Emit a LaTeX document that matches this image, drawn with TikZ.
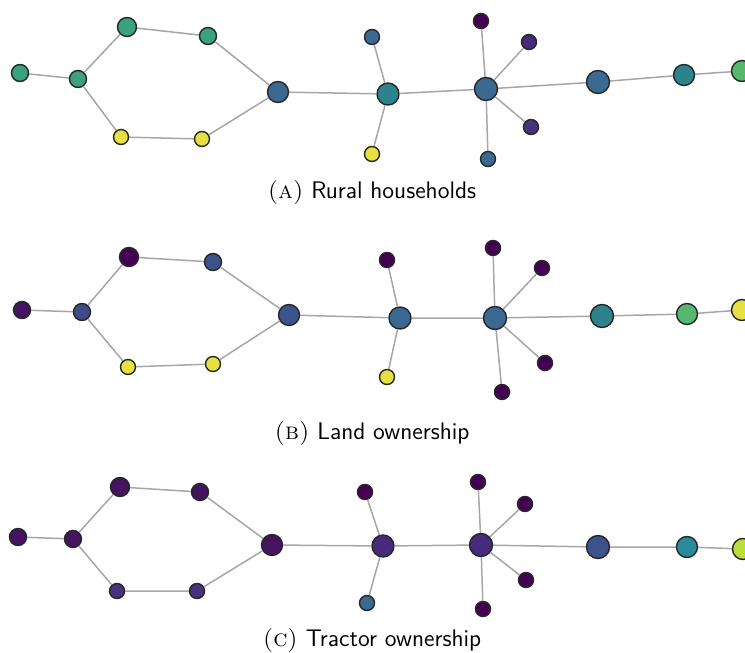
\documentclass[tikz,border=0pt]{standalone}
\definecolor{vpurple}{HTML}{440154}
\definecolor{vplum}{HTML}{45135F}
\definecolor{vviolet}{HTML}{472A7A}
\definecolor{vindigo}{HTML}{46337E}
\definecolor{vnavy}{HTML}{3E4A89}
\definecolor{vblue}{HTML}{3B528B}
\definecolor{vsteel}{HTML}{3A6A92}
\definecolor{vteal}{HTML}{2C838E}
\definecolor{vcyan}{HTML}{2B8A9A}
\definecolor{vgreen}{HTML}{3AA27F}
\definecolor{vlgreen}{HTML}{55B86C}
\definecolor{vlime}{HTML}{BADE3A}
\definecolor{vyellow}{HTML}{E6E040}
\begin{document}
\begin{tikzpicture}[x=0.5pt,y=-0.5pt,
	v/.style={circle,draw=black!85,line width=0.7pt,inner sep=0pt,minimum size=#1},
	link/.style={draw=gray!70,line width=0.75pt},
	capt/.style={font=\fontsize{12}{14}\selectfont}]
	\useasboundingbox(0,0)rectangle(745,653);
	% (a) rural households
	\node[v=8.5pt,fill=vgreen](a1)at(20,73){};
	\node[v=8.5pt,fill=vgreen](a2)at(78,79){};
	\node[v=9.5pt,fill=vgreen](a3)at(127,27){};
	\node[v=8.5pt,fill=vgreen](a4)at(208,36){};
	\node[v=10.5pt,fill=vsteel](a5)at(278,92){};
	\node[v=7.5pt,fill=vyellow](a6)at(121,137){};
	\node[v=7.5pt,fill=vyellow](a7)at(202,139){};
	\node[v=11pt,fill=vteal](a8)at(388,94){};
	\node[v=7.5pt,fill=vsteel](a9)at(372,37){};
	\node[v=7.5pt,fill=vyellow](a10)at(372,154){};
	\node[v=11.5pt,fill=vsteel](a11)at(486,89){};
	\node[v=7.5pt,fill=vpurple](a12)at(481,21){};
	\node[v=7.5pt,fill=vviolet](a13)at(529,42){};
	\node[v=7.5pt,fill=vindigo](a14)at(531,127){};
	\node[v=7.5pt,fill=vsteel](a15)at(488,159){};
	\node[v=11.5pt,fill=vsteel](a16)at(598,82){};
	\node[v=10.5pt,fill=vteal](a17)at(684,75){};
	\node[v=10.5pt,fill=vlgreen](a18)at(742,71){};
	\draw[link](a1)--(a2)--(a3)--(a4)--(a5)--(a7)--(a6)--(a2);
	\draw[link](a5)--(a8)--(a11)--(a16)--(a17)--(a18);
	\draw[link](a9)--(a8)--(a10);
	\draw[link](a12)--(a11)--(a13);
	\draw[link](a14)--(a11)--(a15);
	\node[capt](capa)at(372,192){\textsc{(a)}\ \textsf{Rural households}};
	% (b) land ownership
	\node[v=8.5pt,fill=vplum](b1)at(22,310){};
	\node[v=8.5pt,fill=vnavy](b2)at(82,312){};
	\node[v=9.5pt,fill=vpurple](b3)at(129,257){};
	\node[v=8.5pt,fill=vblue](b4)at(213,262){};
	\node[v=10.5pt,fill=vblue](b5)at(289,315){};
	\node[v=7.5pt,fill=vyellow](b6)at(128,367){};
	\node[v=7.5pt,fill=vyellow](b7)at(213,364){};
	\node[v=11pt,fill=vsteel](b8)at(400,318){};
	\node[v=7.5pt,fill=vpurple](b9)at(387,260){};
	\node[v=7.5pt,fill=vyellow](b10)at(387,377){};
	\node[v=11.5pt,fill=vsteel](b11)at(495,318){};
	\node[v=7.5pt,fill=vpurple](b12)at(493,248){};
	\node[v=7.5pt,fill=vpurple](b13)at(542,268){};
	\node[v=7.5pt,fill=vpurple](b14)at(545,363){};
	\node[v=7.5pt,fill=vpurple](b15)at(502,392){};
	\node[v=11.5pt,fill=vteal](b16)at(602,316){};
	\node[v=10.5pt,fill=vlgreen](b17)at(687,314){};
	\node[v=10.5pt,fill=vyellow](b18)at(742,310){};
	\draw[link](b1)--(b2)--(b3)--(b4)--(b5)--(b7)--(b6)--(b2);
	\draw[link](b5)--(b8)--(b11)--(b16)--(b17)--(b18);
	\draw[link](b9)--(b8)--(b10);
	\draw[link](b12)--(b11)--(b13);
	\draw[link](b14)--(b11)--(b15);
	\node[capt](capb)at(372,433){\textsc{(b)}\ \textsf{Land ownership}};
	% (c) tractor ownership
	\node[v=8.5pt,fill=vplum](c1)at(18,537){};
	\node[v=8.5pt,fill=vplum](c2)at(73,539){};
	\node[v=9.5pt,fill=vplum](c3)at(120,487){};
	\node[v=8.5pt,fill=vplum](c4)at(200,492){};
	\node[v=10.5pt,fill=vplum](c5)at(272,545){};
	\node[v=7.5pt,fill=vindigo](c6)at(117,591){};
	\node[v=7.5pt,fill=vindigo](c7)at(197,591){};
	\node[v=11pt,fill=vviolet](c8)at(383,546){};
	\node[v=7.5pt,fill=vpurple](c9)at(365,492){};
	\node[v=7.5pt,fill=vsteel](c10)at(367,603){};
	\node[v=11.5pt,fill=vviolet](c11)at(481,545){};
	\node[v=7.5pt,fill=vpurple](c12)at(478,482){};
	\node[v=7.5pt,fill=vpurple](c13)at(525,504){};
	\node[v=7.5pt,fill=vpurple](c14)at(526,580){};
	\node[v=7.5pt,fill=vpurple](c15)at(483,609){};
	\node[v=11.5pt,fill=vblue](c16)at(598,547){};
	\node[v=10.5pt,fill=vcyan](c17)at(687,547){};
	\node[v=10.5pt,fill=vlime](c18)at(743,549){};
	\draw[link](c1)--(c2)--(c3)--(c4)--(c5)--(c7)--(c6)--(c2);
	\draw[link](c5)--(c8)--(c11)--(c16)--(c17)--(c18);
	\draw[link](c9)--(c8)--(c10);
	\draw[link](c12)--(c11)--(c13);
	\draw[link](c14)--(c11)--(c15);
	\node[capt](capc)at(372,640){\textsc{(c)}\ \textsf{Tractor ownership}};
\end{tikzpicture}
\end{document}
